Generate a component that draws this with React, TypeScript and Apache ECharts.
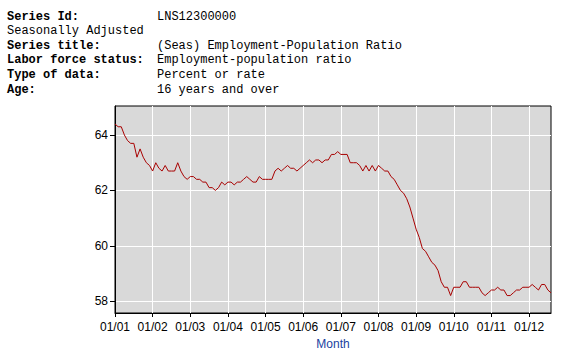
import React, { useEffect, useRef } from "react";
import * as echarts from "echarts";

const yearLabels = ["01", "02", "03", "04", "05", "06", "07", "08", "09", "10", "11", "12"];
const values2001 = [64.4, 64.3, 64.3, 64.0, 63.8, 63.7, 63.7, 63.2, 63.5, 63.2, 63.0, 62.9];
const values2002 = [62.7, 63.0, 62.8, 62.7, 62.9, 62.7, 62.7, 62.7, 63.0, 62.7, 62.5, 62.4];
const values2003 = [62.5, 62.5, 62.4, 62.4, 62.3, 62.3, 62.1, 62.1, 62.0, 62.1, 62.3, 62.2];
const values2004 = [62.3, 62.3, 62.2, 62.3, 62.3, 62.4, 62.5, 62.4, 62.3, 62.3, 62.5, 62.4];
const values2005 = [62.4, 62.4, 62.4, 62.7, 62.8, 62.7, 62.8, 62.9, 62.8, 62.8, 62.7, 62.8];
const values2006 = [62.9, 63.0, 63.1, 63.0, 63.1, 63.1, 63.0, 63.1, 63.1, 63.3, 63.3, 63.4];
const values2007 = [63.3, 63.3, 63.3, 63.0, 63.0, 63.0, 62.9, 62.7, 62.9, 62.7, 62.9, 62.7];
const values2008 = [62.9, 62.8, 62.7, 62.7, 62.5, 62.4, 62.2, 62.0, 61.9, 61.7, 61.4, 61.0];
const values2009 = [60.6, 60.3, 59.9, 59.8, 59.6, 59.4, 59.3, 59.1, 58.7, 58.5, 58.5, 58.2];
const values2010 = [58.5, 58.5, 58.5, 58.7, 58.7, 58.5, 58.5, 58.5, 58.5, 58.3, 58.2, 58.3];
const values2011 = [58.4, 58.4, 58.5, 58.4, 58.4, 58.2, 58.2, 58.3, 58.4, 58.4, 58.5, 58.5];
const values2012 = [58.5, 58.6, 58.5, 58.4, 58.6, 58.6, 58.4, 58.3];
const yearlyValues = [
  values2001, values2002, values2003, values2004, values2005, values2006,
  values2007, values2008, values2009, values2010, values2011, values2012,
];
const yTickValues = [58, 60, 62, 64];

const headerLabels = ["Series Id:", "Seasonally Adjusted", "Series title:", "Labor force status:", "Type of data:", "Age:"];
const headerValues = ["LNS12300000", "", "(Seas) Employment-Population Ratio", "Employment-population ratio", "Percent or rate", "16 years and over"];
const headerBold = [true, false, true, true, true, true];

export default function App() {
  const ref = useRef<HTMLDivElement>(null);
  useEffect(() => {
    if (!ref.current) return;
    const chart = echarts.init(ref.current, null, { renderer: "svg" });
    const categories: string[] = [];
    const values: number[] = [];
    yearlyValues.forEach((arr, yi) => {
      arr.forEach((v, mi) => {
        const mm = String(mi + 1).padStart(2, "0");
        categories.push(mm + "/" + yearLabels[yi]);
        values.push(v);
      });
    });
    const isJan = (i: number) => i % 12 === 0;

    const graphics: any[] = [];
    headerLabels.forEach((t, i) => {
      const y = 17.5 + i * 14.6;
      graphics.push({
        type: "text",
        left: 7,
        top: y - 7,
        style: {
          text: t,
          font: (headerBold[i] ? "bold " : "") + '12px "Liberation Mono", monospace',
          fill: "#000",
        },
      });
      if (headerValues[i]) {
        graphics.push({
          type: "text",
          left: 157,
          top: y - 7,
          style: {
            text: headerValues[i],
            font: '12px "Liberation Mono", monospace',
            fill: "#000",
          },
        });
      }
    });

    chart.setOption({
      animation: false,
      backgroundColor: "#fff",
      graphic: graphics,
      grid: {
        left: 115,
        right: 10,
        top: 106,
        bottom: 42,
        show: true,
        backgroundColor: "#d9d9d9",
        borderColor: "#000",
        borderWidth: 1,
      },
      xAxis: {
        type: "category",
        data: categories,
        boundaryGap: false,
        name: "Month",
        nameLocation: "middle",
        nameGap: 24,
        nameTextStyle: { color: "#1a3fa0", fontSize: 12, fontFamily: "Liberation Sans" },
        axisLine: { show: true, lineStyle: { color: "#000", width: 1 } },
        axisTick: { show: true, length: 4, interval: (i: number) => isJan(i), lineStyle: { color: "#000" } },
        axisLabel: {
          interval: (i: number) => isJan(i),
          margin: 8,
          color: "#000",
          fontSize: 12,
          fontFamily: "Liberation Sans",
        },
        splitLine: {
          show: true,
          interval: (i: number) => isJan(i),
          lineStyle: { color: "#fff", width: 1 },
        },
      },
      yAxis: {
        type: "value",
        min: 57.57,
        max: 65.05,
        axisLine: { show: true, lineStyle: { color: "#000", width: 1 } },
        axisTick: { show: true, length: 5, customValues: yTickValues, lineStyle: { color: "#000" } },
        axisLabel: {
          customValues: yTickValues,
          margin: 7,
          color: "#000",
          fontSize: 12,
          fontFamily: "Liberation Sans",
        },
        splitLine: {
          show: true,
          lineStyle: { color: "#fff", width: 1 },
        },
      },
      series: [
        {
          type: "line",
          data: values,
          symbol: "none",
          lineStyle: { color: "#a80000", width: 1 },
        },
      ],
    });
    return () => chart.dispose();
  }, []);
  return (
    <div
      ref={ref}
      style={{ position: "absolute", left: 0, top: 0, width: 561, height: 355 }}
    />
  );
}
